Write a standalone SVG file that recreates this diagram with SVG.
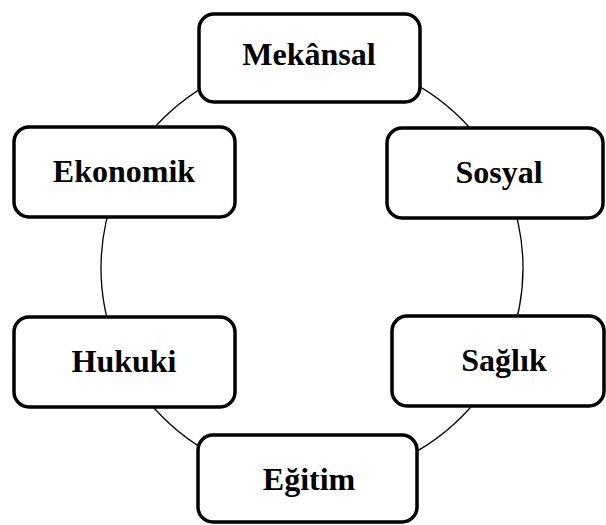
<svg xmlns="http://www.w3.org/2000/svg" width="606" height="525" viewBox="0 0 606 525">
<style>
.box{fill:#fff;stroke:#000;stroke-width:3.5}
.lbl{font-family:"Liberation Serif","Times New Roman",serif;font-weight:bold;font-size:32px;fill:#000;text-anchor:middle}
.ring{fill:none;stroke:#000;stroke-width:1.3}
</style>
<rect width="606" height="525" fill="#fff"/>
<g id="connectors">
<ellipse class="ring" cx="312" cy="268" rx="211" ry="211"/>
</g>
<g id="mekansal">
<rect class="box" x="199" y="14" width="221" height="88" rx="15"/>
<text class="lbl" x="309" y="65">Mekânsal</text>
</g>
<g id="ekonomik">
<rect class="box" x="14" y="127" width="221" height="90" rx="15"/>
<text class="lbl" x="124" y="182">Ekonomik</text>
</g>
<g id="sosyal">
<rect class="box" x="387" y="128" width="216" height="90" rx="15"/>
<text class="lbl" x="499" y="183">Sosyal</text>
</g>
<g id="hukuki">
<rect class="box" x="14" y="317" width="221" height="90" rx="15"/>
<text class="lbl" x="124" y="372">Hukuki</text>
</g>
<g id="saglik">
<rect class="box" x="392" y="316" width="212" height="90" rx="15"/>
<text class="lbl" x="504" y="371">Sağlık</text>
</g>
<g id="egitim">
<rect class="box" x="198" y="435" width="219" height="87" rx="15"/>
<text class="lbl" x="309" y="490">Eğitim</text>
</g>
</svg>
